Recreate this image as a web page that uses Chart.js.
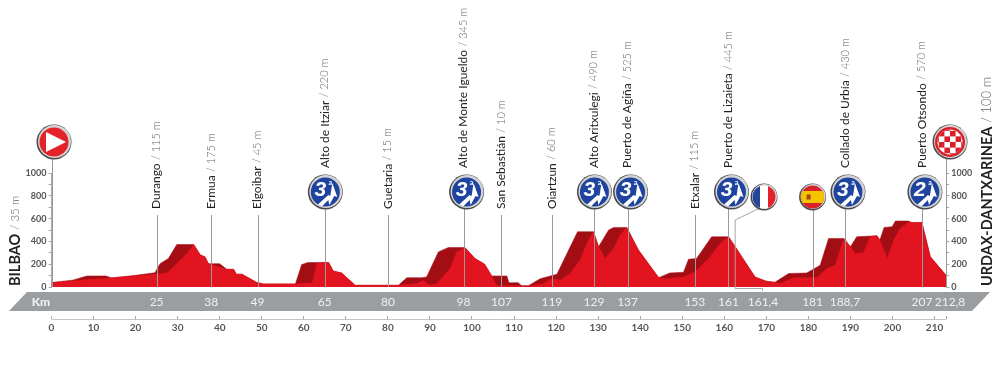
<!DOCTYPE html>
<html>
<head>
<meta charset="utf-8">
<style>html,body{margin:0;padding:0;background:#fff}canvas{display:block}</style>
<script src="https://cdn.jsdelivr.net/npm/chart.js@4/dist/chart.umd.min.js"></script>
</head>
<body>
<canvas id="profile" width="1000" height="365"></canvas>
<script>
// outline of the stage (km / m), dark red back face
const ridgeKm = [0,5,8.4,13,14.3,19.5,24.6,25.8,27.8,29.8,33.8,35.4,36.5,37.3,40,41.7,43.3,44,45.3,48.8,50.4,58,59.5,61,65.9,67,69,72.2,82.5,84.5,88,89.2,92,94.4,98.3,100.7,103,104.7,108.3,108.8,111,111.8,113.4,116.2,120.2,121.4,125.1,128.9,130.1,132.5,133.7,136.8,139.6,144.4,147,150.3,151.5,153.4,157,161,162.6,167.3,170,172,175.3,179.6,182.8,184.8,188.4,190,191.5,196.3,197,198,199.9,200.7,203.8,204.6,207,209,212.8];
const ridgeElev = [40,60,97,97,80,100,125,205,250,373,373,280,265,205,205,155,155,112,112,40,27,27,197,215,215,140,123,15,15,82,82,88,308,347,347,250,200,97,97,38,38,10,10,73,112,205,485,485,353,500,523,523,323,82,123,129,244,250,441,441,353,88,50,41,118,123,191,426,426,353,441,450,412,523,529,579,579,565,565,265,100];

// bright red front face
const frontKm = [0,8.4,14,24.6,27.4,29.8,32.2,33.8,35.4,36.5,37.3,38.5,41.7,43.3,44,45.3,48.8,50.4,58,62,63.1,64.3,65.9,67,69,72.2,82.5,86.8,88.4,90,91.6,94.8,96.4,98.3,100.7,103,104.7,105.9,108.6,111.8,113.8,117,119,121,123.3,125.7,127.3,128.9,130.1,131.7,133.7,135.2,136.8,139.6,144.4,146.3,150.3,153,155,156.6,159,161,162.6,167.3,170,172,173.3,176.5,182,184.4,186.4,188.4,190,191.1,193.1,194.7,196.3,197,198.8,200.3,201.8,203.8,204.6,207,209,212.8];
const frontElev = [35,65,80,112,123,205,294,373,280,265,205,190,155,155,112,112,40,27,27,38,205,215,215,140,123,15,15,30,59,15,30,162,308,347,250,200,97,10,10,10,10,30,73,59,118,235,382,485,353,250,338,456,523,323,82,73,88,132,205,265,382,441,353,88,50,41,30,82,82,162,191,426,353,294,303,441,450,412,250,412,514,567,565,565,265,100];

const elevTicks = [0,200,400,600,800,1000];
const kmTicks = [0,10,20,30,40,50,60,70,80,90,100,110,120,130,140,150,160,170,180,190,200,210];

// towns on the road
const townKm = [25,38,49,80,107,119,153];
const townName = ["Durango","Ermua","Elgoibar","Guetaria","San Sebastián","Oiartzun","Etxalar"];
const townAlt = ["115 m","175 m","45 m","15 m","10 m","60 m","115 m"];

// categorised climbs
const climbKm = [65,98,129,137,161,188.7,207];
const climbName = ["Alto de Itziar","Alto de Monte Igueldo","Alto Aritxulegi","Puerto de Agiña","Puerto de Lizaieta","Collado de Urbía","Puerto Otsondo"];
const climbAlt = ["220 m","345 m","490 m","525 m","445 m","430 m","570 m"];
const climbCat = ["3","3","3","3","3","3","2"];

// labels inside the grey band
const bandKm = [25,38,49,65,80,98,107,119,129,137,153,161,161.4,181,188.7,207,212.8];
const bandLabel = ["25","38","49","65","80","98","107","119","129","137","153","161","161,4","181","188,7","207","212,8"];

const startName = "BILBAO", startAlt = "35 m";
const finishName = "URDAX-DANTXARINEA", finishAlt = "100 m";
const frontierKm = 161.4, spainKm = 181;

const FONT = "Lato, 'Open Sans', sans-serif";

function badgeRing(ctx, x, y, r) {
    ctx.beginPath(); ctx.arc(x, y, r, 0, Math.PI * 2); ctx.fillStyle = "#4a4a4a"; ctx.fill();
    ctx.beginPath(); ctx.arc(x + 0.5, y - 0.5, r - 1, 0, Math.PI * 2); ctx.fillStyle = "#d4d4d4"; ctx.fill();
}

function clipCircle(ctx, x, y, r) {
    ctx.beginPath(); ctx.arc(x, y, r, 0, Math.PI * 2); ctx.clip();
}

function drawClimb(ctx, x, y, cat) {
    badgeRing(ctx, x, y, 17.5);
    ctx.beginPath(); ctx.arc(x, y, 14.5, 0, Math.PI * 2); ctx.fillStyle = "#1f44a0"; ctx.fill();
    ctx.save();
    clipCircle(ctx, x, y, 14.5);
    ctx.fillStyle = "#fff";
    ctx.beginPath();
    ctx.moveTo(x - 9, y + 14);
    ctx.lineTo(x + 3, y + 3);
    ctx.lineTo(x + 5, y + 4);
    ctx.lineTo(x + 7, y - 9);
    ctx.lineTo(x + 12, y + 5);
    ctx.lineTo(x + 9, y + 4);
    ctx.lineTo(x + 4, y + 13);
    ctx.lineTo(x + 3, y + 8);
    ctx.lineTo(x - 3, y + 14);
    ctx.closePath();
    ctx.fill();
    ctx.restore();
    ctx.fillStyle = "#fff";
    ctx.textAlign = "center";
    ctx.textBaseline = "middle";
    ctx.font = "italic bold 21px 'Liberation Sans', sans-serif";
    ctx.fillText(cat, x - 5, y - 2);
    ctx.font = "bold 7px " + FONT;
    ctx.fillText("a", x + 5, y - 9);
}

function drawStart(ctx, x, y) {
    badgeRing(ctx, x, y, 17.5);
    ctx.beginPath(); ctx.arc(x, y, 14.5, 0, Math.PI * 2); ctx.fillStyle = "#e3222a"; ctx.fill();
    ctx.fillStyle = "#fff";
    ctx.beginPath();
    ctx.moveTo(x - 8, y - 10);
    ctx.lineTo(x + 12, y);
    ctx.lineTo(x - 8, y + 10);
    ctx.closePath();
    ctx.fill();
}

function drawFinish(ctx, x, y) {
    badgeRing(ctx, x, y, 17.5);
    ctx.beginPath(); ctx.arc(x, y, 15, 0, Math.PI * 2); ctx.fillStyle = "#d9202a"; ctx.fill();
    ctx.save();
    clipCircle(ctx, x, y, 12.5);
    ctx.fillStyle = "#fff";
    ctx.fillRect(x - 14, y - 14, 28, 28);
    ctx.fillStyle = "#d9202a";
    const s = 5.6;
    for (let i = -3; i < 3; i++) {
        for (let j = -3; j < 3; j++) {
            if ((i + j + 6) % 2 === 0) ctx.fillRect(x + i * s, y + j * s, s, s);
        }
    }
    ctx.restore();
}

function drawFrance(ctx, x, y) {
    badgeRing(ctx, x, y, 13.5);
    ctx.save();
    clipCircle(ctx, x, y, 11.5);
    ctx.fillStyle = "#fff"; ctx.fillRect(x - 12, y - 12, 24, 24);
    ctx.fillStyle = "#24459c"; ctx.fillRect(x - 12, y - 12, 8, 24);
    ctx.fillStyle = "#e3222a"; ctx.fillRect(x + 4, y - 12, 8, 24);
    ctx.restore();
}

function drawSpain(ctx, x, y) {
    badgeRing(ctx, x, y, 13.5);
    ctx.save();
    clipCircle(ctx, x, y, 11.5);
    ctx.fillStyle = "#d8232a"; ctx.fillRect(x - 12, y - 12, 24, 24);
    ctx.fillStyle = "#f5c400"; ctx.fillRect(x - 12, y - 6, 24, 12);
    ctx.fillStyle = "#a8431c"; ctx.fillRect(x - 6, y - 2.5, 4, 5);
    ctx.restore();
}

// rotated text: strong part reads upward from (x, y), followed by a lighter altitude
function upText(ctx, x, y, name, alt, size, altSize, weight) {
    ctx.save();
    ctx.translate(x, y);
    ctx.rotate(-Math.PI / 2);
    ctx.textAlign = "left";
    ctx.textBaseline = "middle";
    ctx.font = weight + " " + size + "px " + FONT;
    ctx.fillStyle = "#222";
    ctx.fillText(name, 0, 0);
    const w = ctx.measureText(name).width + size * 0.28;
    ctx.font = "300 " + altSize + "px " + FONT;
    ctx.fillStyle = "#666";
    ctx.fillText("/ " + alt, w, 0);
    ctx.restore();
}

const stageDecor = {
    id: "stageDecor",
    beforeDatasetsDraw(chart) {
        const ctx = chart.ctx, xs = chart.scales.x;
        // grey km band
        ctx.fillStyle = "#9a9ea0";
        ctx.beginPath();
        ctx.moveTo(27, 292); ctx.lineTo(990, 292); ctx.lineTo(972, 311); ctx.lineTo(9, 311);
        ctx.closePath();
        ctx.fill();
        ctx.strokeStyle = "#c4c4c4";
        ctx.lineWidth = 1;
        ctx.beginPath();
        ctx.moveTo(xs.left, 319.5); ctx.lineTo(xs.right, 319.5);
        ctx.stroke();
    },
    afterDatasetsDraw(chart) {
        const ctx = chart.ctx, xs = chart.scales.x, ys = chart.scales.y;
        const base = ys.getPixelForValue(0);

        function vline(px, top) {
            const p = Math.round(px) + 0.5;
            ctx.strokeStyle = "#9a9a9a";
            ctx.lineWidth = 1;
            ctx.beginPath(); ctx.moveTo(p, top); ctx.lineTo(p, base); ctx.stroke();
        }

        // start and finish posts
        vline(xs.left, 158);
        vline(xs.right, 158);
        townKm.forEach(km => vline(xs.getPixelForValue(km), 215));
        climbKm.forEach(km => vline(xs.getPixelForValue(km), 205));
        vline(xs.getPixelForValue(spainKm), 205);

        // border connector, the label sits to the right of the peak
        const fx = xs.getPixelForValue(frontierKm) + 5;
        ctx.strokeStyle = "#a8a8a8";
        ctx.lineWidth = 1;
        ctx.beginPath();
        ctx.moveTo(762, 207); ctx.lineTo(fx, 220); ctx.lineTo(fx, 288.5); ctx.lineTo(762.5, 288.5); ctx.lineTo(762.5, 291);
        ctx.stroke();

        // texts
        townKm.forEach((km, i) => upText(ctx, xs.getPixelForValue(km), 209, townName[i], townAlt[i], 12, 11, "400"));
        climbKm.forEach((km, i) => upText(ctx, xs.getPixelForValue(km), 168, climbName[i], climbAlt[i], 12, 11, "400"));
        upText(ctx, 15, 286, startName, startAlt, 14.5, 11.5, "700");
        upText(ctx, 987, 286, finishName, finishAlt, 14.5, 13, "700");

        // band labels
        ctx.textAlign = "center";
        ctx.textBaseline = "middle";
        ctx.fillStyle = "#f0f0f0";
        ctx.font = "400 12px " + FONT;
        bandKm.forEach((km, i) => {
            let p = xs.getPixelForValue(km);
            if (km === frontierKm) p = 763;
            if (km === 212.8) p = 950;
            ctx.fillText(bandLabel[i], p, 302);
        });
        ctx.font = "900 12px " + FONT;
        ctx.fillText("Km", 41, 302);

        // badges
        climbKm.forEach((km, i) => {
            const shift = km === 65 || km === 129 ? 0.5 : 3;
            drawClimb(ctx, xs.getPixelForValue(km) + shift, 192, climbCat[i]);
        });
        drawFrance(ctx, 764, 197);
        drawSpain(ctx, xs.getPixelForValue(spainKm), 197);
        drawStart(ctx, 54, 142);
        drawFinish(ctx, 950, 142);
    }
};

function pairs(xs, ys) {
    return xs.map((x, i) => ({ x: x, y: ys[i] }));
}

function elevScale(pos, axisWidth) {
    return {
        type: "linear",
        position: pos,
        min: 0,
        max: 1000,
        afterFit: s => { s.width = axisWidth; },
        grid: { drawOnChartArea: false, tickLength: 3, color: "#aaa" },
        border: { color: "#aaa" },
        ticks: {
            stepSize: 100,
            padding: 2,
            autoSkip: false,
            color: "#555",
            font: { family: FONT, size: 9, weight: "700" },
            callback: v => elevTicks.includes(v) ? String(v) : ""
        }
    };
}

new Chart(document.getElementById("profile"), {
    type: "line",
    data: {
        datasets: [
            {
                label: "Back face",
                data: pairs(ridgeKm, ridgeElev),
                backgroundColor: "#a30d14",
                borderColor: "#a30d14",
                borderWidth: 0.5,
                fill: "origin",
                tension: 0,
                pointRadius: 0,
                order: 2
            },
            {
                label: "Front face",
                data: pairs(frontKm, frontElev),
                backgroundColor: "#e2141f",
                borderColor: "#e2141f",
                borderWidth: 0.5,
                fill: "origin",
                tension: 0,
                pointRadius: 0,
                order: 1
            }
        ]
    },
    options: {
        responsive: false,
        animation: false,
        layout: { padding: { top: 173, bottom: 78 } },
        plugins: { legend: { display: false }, tooltip: { enabled: false } },
        scales: {
            x: {
                type: "linear",
                position: { y: -255 },
                min: 0,
                max: 212.8,
                afterBuildTicks: s => { s.ticks = kmTicks.concat(212.8).map(v => ({ value: v })); },
                grid: { drawOnChartArea: false, tickLength: 3, color: "#aaa" },
                border: { display: false },
                ticks: {
                    padding: 3,
                    autoSkip: false,
                    maxRotation: 0,
                    color: "#555",
                    font: { family: FONT, size: 10, weight: "700" },
                    callback: v => kmTicks.includes(v) ? String(v) : ""
                }
            },
            y: elevScale("left", 51.5),
            y2: elevScale("right", 53.7)
        }
    },
    plugins: [stageDecor]
});
</script>
</body>
</html>
